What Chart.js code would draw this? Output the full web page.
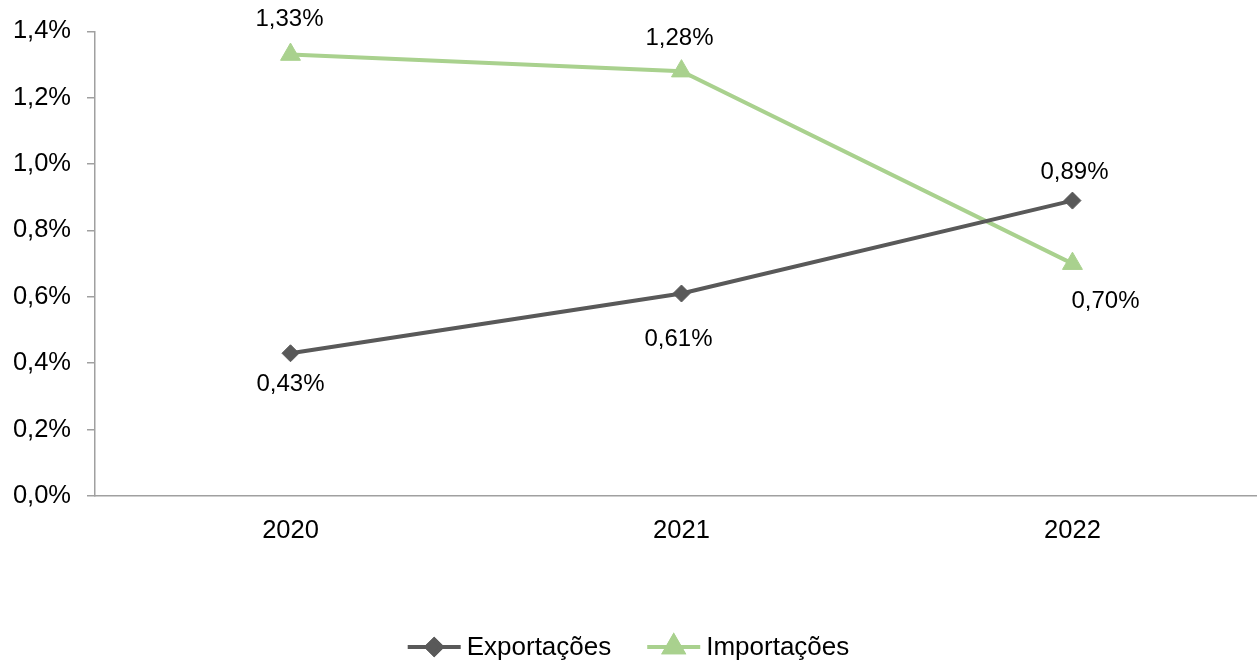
<!DOCTYPE html>
<html>
<head>
<meta charset="utf-8">
<script src="https://cdn.jsdelivr.net/npm/chart.js@4.4.1/dist/chart.umd.min.js"></script>
<style>
  html, body { margin: 0; padding: 0; background: #fff; overflow: hidden; }
  canvas { display: block; }
</style>
</head>
<body>
<canvas id="chart" width="1257" height="662" style="width:1257px;height:662px"></canvas>
<script>
const years = [2020, 2021, 2022];
const exportacoes = [0.43, 0.61, 0.89];
const importacoes = [1.33, 1.28, 0.70];
const yTicks = [0, 0.2, 0.4, 0.6, 0.8, 1.0, 1.2, 1.4];

// label offsets (px) from each point, like the original placement
const exportLabelOffsets = [[0, 31], [-3, 46], [2, -28]];
const importLabelOffsets = [[-1, -35], [-2, -33], [33, 38]];

const FONT = '"Liberation Sans", Arial, sans-serif';
const GRAY = "#595959";
const GREEN = "#A9D18E";
const AXIS = "#A0A0A0";

const fmt = (v, d) => v.toFixed(d).replace(".", ",") + "%";
const toPoints = vals => vals.map((v, i) => ({ x: years[i], y: v }));

const labelPlugin = {
    id: "pointLabels",
    afterDatasetsDraw(chart) {
        const ctx = chart.ctx;
        ctx.save();
        ctx.font = "24px " + FONT;
        ctx.fillStyle = "#000";
        ctx.textAlign = "center";
        ctx.textBaseline = "middle";
        chart.data.datasets.forEach((ds, i) => {
            const meta = chart.getDatasetMeta(i);
            meta.data.forEach((pt, j) => {
                const off = ds.labelOffsets[j];
                ctx.fillText(fmt(ds.data[j].y, 2), pt.x + off[0], pt.y + off[1]);
            });
        });
        ctx.restore();
    }
};

const legendPlugin = {
    id: "lineLegend",
    afterDraw(chart) {
        const ctx = chart.ctx;
        const y = 647;
        const lineW = 53, gapText = 6, gapItem = 36;
        ctx.save();
        ctx.font = "26px " + FONT;
        const items = chart.data.datasets.map(ds => ({ ds, w: ctx.measureText(ds.label).width }));
        let total = 0;
        items.forEach((it, i) => { total += lineW + gapText + it.w + (i ? gapItem : 0); });
        let x = chart.width / 2 - total / 2;
        items.forEach((it, i) => {
            if (i) x += gapItem;
            const ds = it.ds;
            ctx.strokeStyle = ds.borderColor;
            ctx.lineWidth = ds.borderWidth;
            ctx.beginPath();
            ctx.moveTo(x, y);
            ctx.lineTo(x + lineW, y);
            ctx.stroke();
            Chart.helpers.drawPoint(ctx, {
                pointStyle: ds.pointStyle,
                radius: ds.pointRadius - 1,
                borderWidth: 1,
                rotation: 0
            }, x + lineW / 2, y);
            ctx.fillStyle = ds.pointBackgroundColor;
            ctx.strokeStyle = ds.pointBorderColor;
            ctx.fill();
            ctx.stroke();
            ctx.fillStyle = "#000";
            ctx.textAlign = "left";
            ctx.textBaseline = "middle";
            ctx.fillText(ds.label, x + lineW + gapText, y + 1);
            x += lineW + gapText + it.w;
        });
        ctx.restore();
    }
};

new Chart(document.getElementById("chart").getContext("2d"), {
    type: "line",
    data: {
        datasets: [
            {
                label: "Exportações",
                data: toPoints(exportacoes),
                borderColor: GRAY,
                backgroundColor: GRAY,
                pointBackgroundColor: GRAY,
                pointBorderColor: GRAY,
                borderWidth: 4,
                pointStyle: "rectRot",
                pointRadius: 8.5,
                pointHoverRadius: 8.5,
                pointBorderWidth: 1,
                labelOffsets: exportLabelOffsets
            },
            {
                label: "Importações",
                data: toPoints(importacoes),
                borderColor: GREEN,
                backgroundColor: GREEN,
                pointBackgroundColor: GREEN,
                pointBorderColor: GREEN,
                borderWidth: 4,
                pointStyle: "triangle",
                pointRadius: 11.5,
                pointHoverRadius: 11.5,
                pointBorderWidth: 1,
                labelOffsets: importLabelOffsets
            }
        ]
    },
    options: {
        responsive: false,
        animation: false,
        devicePixelRatio: 1,
        layout: { autoPadding: false, padding: { top: 31, left: 0, right: 0, bottom: 117 } },
        plugins: {
            legend: { display: false },
            tooltip: { enabled: false }
        },
        scales: {
            x: {
                type: "linear",
                min: 2019.5,
                max: 2022.472,
                afterBuildTicks: s => { s.ticks = years.map(v => ({ value: v })); },
                afterFit: s => { s.height = 49; },
                grid: { display: false, drawTicks: false },
                border: { color: AXIS, width: 1.5 },
                ticks: {
                    color: "#000",
                    font: { family: FONT, size: 25.5 },
                    padding: 20,
                    callback: v => String(v)
                }
            },
            y: {
                min: 0,
                max: 1.4,
                afterBuildTicks: s => { s.ticks = yTicks.map(v => ({ value: v })); },
                afterFit: s => { s.width = 95; },
                grid: { drawOnChartArea: false, drawTicks: true, tickLength: 8, color: AXIS, lineWidth: 1.5 },
                border: { color: AXIS, width: 1.5 },
                ticks: {
                    color: "#000",
                    font: { family: FONT, size: 25.5 },
                    padding: 16,
                    callback: v => fmt(v, 1)
                }
            }
        }
    },
    plugins: [labelPlugin, legendPlugin]
});
</script>
</body>
</html>
